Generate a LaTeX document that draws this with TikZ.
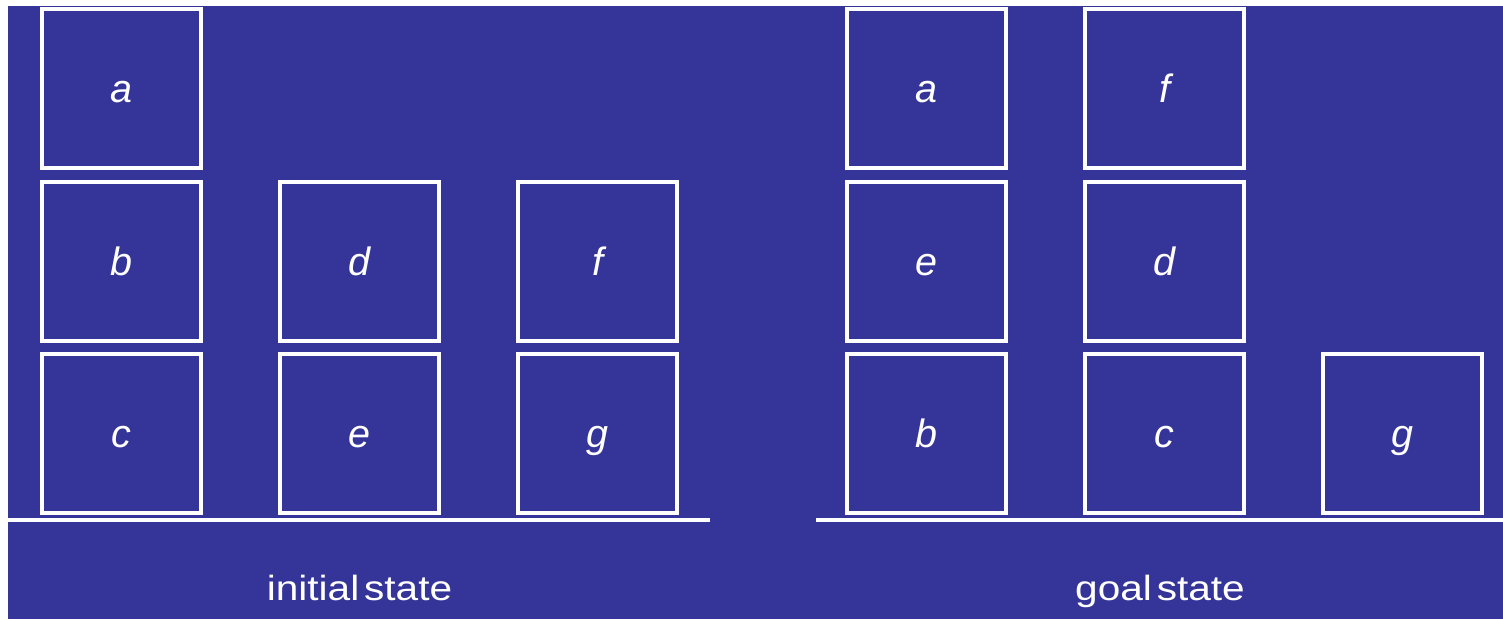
\documentclass[tikz,border=0pt]{standalone}
\usepackage{graphicx}
\usepackage{fontspec}
\setmainfont{Liberation Sans}
\definecolor{bgblue}{RGB}{53,53,153}
\newcommand{\widecap}[1]{\scalebox{1.16}[1]{\spaceskip=0.12em #1}}
\begin{document}
\begin{tikzpicture}[x=1pt,y=-1pt,
  blk/.style={draw=white,line width=4pt,minimum width=159pt,minimum height=159pt,inner sep=0pt,outer sep=0pt},
  lbl/.style={text=white,font=\fontsize{39.5}{41}\selectfont\itshape,anchor=base,inner sep=0pt},
  captxt/.style={text=white,font=\fontsize{35}{37}\selectfont,anchor=base,inner sep=0pt},
  ground/.style={draw=white,line width=4pt}]
\useasboundingbox (0,0) rectangle (1503,619);
\fill[white] (0,0) rectangle (1503,619);
\fill[bgblue] (8,6) rectangle (1503,619);
% initial state
\node[blk] (ia) at (121.5,88.5) {};
\node[blk] (ib) at (121.5,261.5) {};
\node[blk] (ic) at (121.5,433.5) {};
\node[blk] (id) at (359.5,261.5) {};
\node[blk] (ie) at (359.5,433.5) {};
\node[blk] (if) at (597.5,261.5) {};
\node[blk] (ig) at (597.5,433.5) {};
\node[lbl] at (121.5,102) {a};
\node[lbl] at (121.5,275) {b};
\node[lbl] at (121.5,447) {c};
\node[lbl] at (359.5,275) {d};
\node[lbl] at (359.5,447) {e};
\node[lbl] at (597.5,275) {f};
\node[lbl] at (597.5,447) {g};
% goal state
\node[blk] (ga) at (926.5,88.5) {};
\node[blk] (ge) at (926.5,261.5) {};
\node[blk] (gb) at (926.5,433.5) {};
\node[blk] (gf) at (1164.5,88.5) {};
\node[blk] (gd) at (1164.5,261.5) {};
\node[blk] (gc) at (1164.5,433.5) {};
\node[blk] (gg) at (1402.5,433.5) {};
\node[lbl] at (926.5,102) {a};
\node[lbl] at (926.5,275) {e};
\node[lbl] at (926.5,447) {b};
\node[lbl] at (1164.5,102) {f};
\node[lbl] at (1164.5,275) {d};
\node[lbl] at (1164.5,447) {c};
\node[lbl] at (1402.5,447) {g};
% ground lines
\coordinate (l1) at (8,520);
\coordinate (l2) at (710,520);
\coordinate (r1) at (816,520);
\coordinate (r2) at (1503,520);
\draw[ground] (l1) -- (l2);
\draw[ground] (r1) -- (r2);
% captions
\node[captxt] (capi) at (359.5,600.5) {\widecap{initial state}};
\node[captxt] (capg) at (1160,600.5) {\widecap{goal state}};
\end{tikzpicture}
\end{document}
